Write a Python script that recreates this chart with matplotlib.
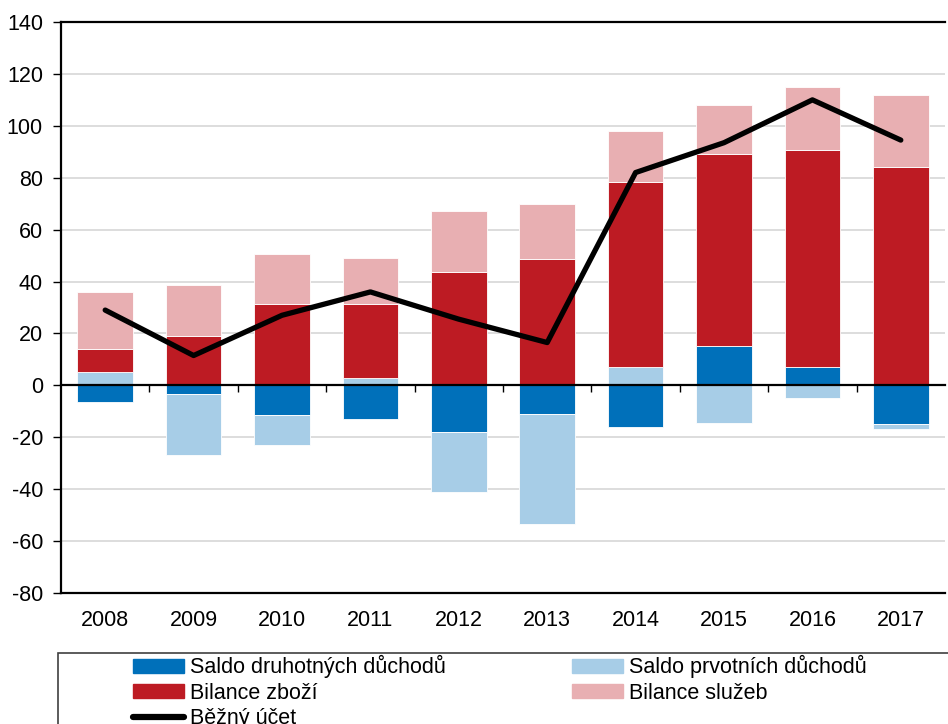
import numpy as np
import matplotlib
matplotlib.use("Agg")
import matplotlib.pyplot as plt
from matplotlib.patches import Rectangle
from matplotlib.lines import Line2D
from matplotlib.patches import Patch

plt.rcParams['font.family'] = ['Liberation Sans', 'DejaVu Sans']

years = ['2008', '2009', '2010', '2011', '2012', '2013', '2014', '2015', '2016', '2017']

# Components of the current account (bn CZK)
saldo_druhotnych = [-6.5, -3.5, -11.5, -13.0, -18.0, -11.0, -16.0, 15.0, 7.0, -15.0]
saldo_prvotnich = [5.0, -23.5, -11.5, 3.0, -23.0, -42.5, 7.0, -14.5, -5.0, -2.0]
bilance_zbozi = [9.0, 19.0, 31.5, 28.5, 43.5, 48.5, 71.5, 74.0, 83.5, 84.0]
bilance_sluzeb = [22.0, 19.5, 19.0, 17.5, 23.5, 21.5, 19.5, 19.0, 24.5, 28.0]
bezny_ucet = [29.0, 11.5, 27.0, 36.0, 25.5, 16.5, 82.0, 93.5, 110.0, 94.5]

yticks = list(range(-80, 141, 20))

series = [
    (saldo_druhotnych, '#0070BA', 'Saldo druhotných důchodů'),
    (saldo_prvotnich, '#A7CDE7', 'Saldo prvotních důchodů'),
    (bilance_zbozi, '#BD1B23', 'Bilance zboží'),
    (bilance_sluzeb, '#E8AFB2', 'Bilance služeb'),
]

FS = 15.5

fig = plt.figure(figsize=(9.48, 7.24), dpi=100)
ax = fig.add_axes([61 / 948, 1 - 593 / 724, 884 / 948, 571 / 724])

x = np.arange(len(years))
pos_base = np.zeros(len(years))
neg_base = np.zeros(len(years))
for vals, color, label in series:
    v = np.array(vals)
    bottom = np.where(v >= 0, pos_base, neg_base)
    ax.bar(x, v, bottom=bottom, width=0.63, color=color,
           edgecolor='white', linewidth=0.6, zorder=2)
    pos_base += np.where(v >= 0, v, 0)
    neg_base += np.where(v < 0, v, 0)

ax.plot(x, bezny_ucet, color='black', linewidth=3.8,
        solid_capstyle='round', solid_joinstyle='round', zorder=4)

ax.set_xlim(-0.5, len(years) - 0.5)
ax.set_ylim(-80, 140)
ax.set_yticks(yticks)
ax.set_yticklabels([str(t) for t in yticks])
ax.yaxis.grid(True, color='#D3D3D3', linewidth=1.1, zorder=0)
ax.set_axisbelow(True)

ax.set_xticks(x)
ax.set_xticklabels(years)
ax.tick_params(axis='x', length=0, pad=12, labelsize=FS)
ax.tick_params(axis='y', length=6, width=1.0, pad=7, labelsize=FS, direction='out')

for side in ['left', 'top', 'bottom']:
    ax.spines[side].set_color('black')
    ax.spines[side].set_linewidth(1.6)
ax.spines['right'].set_visible(False)

# zero line with category boundary ticks
zero_axis = ax.secondary_xaxis(80 / 220)
zero_axis.set_xticks(np.arange(0.5, len(years) - 1, 1.0))
zero_axis.set_xticklabels([])
zero_axis.tick_params(axis='x', direction='out', length=5, width=1.0)
zero_axis.spines['bottom'].set_linewidth(1.6)
zero_axis.spines['bottom'].set_color('black')
zero_axis.set_zorder(5)

# legend frame running past the figure edge
fig.patches.append(Rectangle((58 / 948, -0.05), 1.0, 0.05 + (1 - 653 / 724),
                             transform=fig.transFigure, fill=False,
                             edgecolor='#404040', linewidth=1.2))

handles = [
    Patch(color=series[0][1], label=series[0][2]),
    Patch(color=series[2][1], label=series[2][2]),
    Line2D([0], [0], color='black', linewidth=4.5, solid_capstyle='round',
           label='Běžný účet'),
    Patch(color=series[1][1], label=series[1][2]),
    Patch(color=series[3][1], label=series[3][2]),
]
fig.legend(handles=handles, ncol=2, loc='upper left',
           bbox_to_anchor=(116 / 948, 1 - 638 / 724), frameon=False,
           fontsize=FS, handlelength=2.37, handleheight=0.6,
           handletextpad=0.28, columnspacing=5.86, labelspacing=0.21,
           borderpad=0.3)

fig.savefig('out.png', dpi=100)
